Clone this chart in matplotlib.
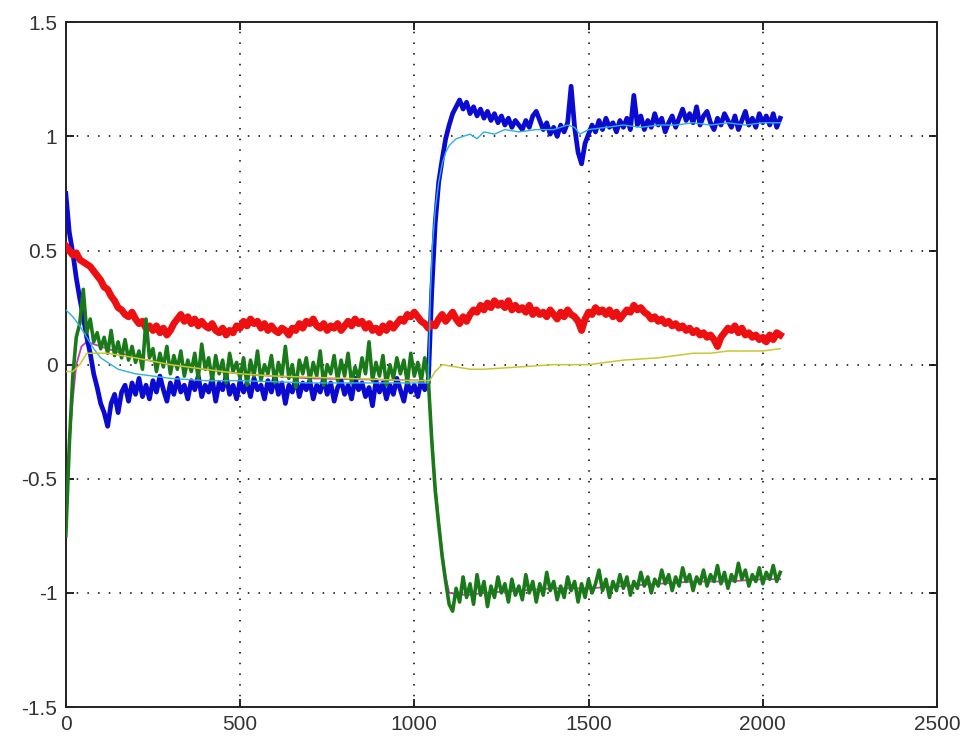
import matplotlib
matplotlib.use("Agg")
import matplotlib.pyplot as plt

# sample positions of the measured signals (one sample every 10 steps)
t = list(range(0, 2051, 10))

blue = [0.75, 0.58, 0.49, 0.38, 0.29, 0.21, 0.12, 0.05, -0.04, -0.10,
        -0.17, -0.21, -0.27, -0.17, -0.13, -0.21, -0.12, -0.09, -0.16, -0.08,
        -0.13, -0.06, -0.14, -0.09, -0.15, -0.07, -0.12, -0.05, -0.11, -0.16,
        -0.08, -0.13, -0.06, -0.12, -0.09, -0.15, -0.07, -0.11, -0.05, -0.14,
        -0.09, -0.12, -0.06, -0.16, -0.08, -0.11, -0.05, -0.13, -0.09, -0.15,
        -0.07, -0.12, -0.08, -0.14, -0.06, -0.11, -0.09, -0.15, -0.07, -0.12,
        -0.05, -0.13, -0.08, -0.17, -0.09, -0.12, -0.06, -0.14, -0.08, -0.11,
        -0.07, -0.15, -0.09, -0.12, -0.06, -0.13, -0.08, -0.16, -0.10, -0.07,
        -0.13, -0.09, -0.15, -0.06, -0.11, -0.08, -0.14, -0.10, -0.18, -0.07,
        -0.12, -0.08, -0.15, -0.09, -0.13, -0.06, -0.11, -0.16, -0.08, -0.12,
        -0.09, -0.14, -0.07, -0.11, -0.08, 0.32, 0.62, 0.80, 0.90, 0.99,
        1.05, 1.10, 1.13, 1.16, 1.12, 1.15, 1.10, 1.13, 1.09, 1.12,
        1.08, 1.11, 1.07, 1.10, 1.06, 1.09, 1.05, 1.08, 1.04, 1.07,
        1.05, 1.03, 1.07, 1.04, 1.09, 1.11, 1.07, 1.03, 1.06, 1.01,
        1.04, 1.00, 1.05, 1.02, 1.06, 1.22, 1.04, 0.93, 0.88, 0.97,
        1.01, 1.05, 1.02, 1.07, 1.03, 1.08, 1.04, 1.06, 1.02, 1.07,
        1.04, 1.08, 1.03, 1.18, 1.05, 1.09, 1.03, 1.07, 1.04, 1.10,
        1.05, 1.08, 1.02, 1.06, 1.09, 1.04, 1.08, 1.12, 1.07, 1.10,
        1.06, 1.13, 1.05, 1.09, 1.11, 1.06, 1.03, 1.08, 1.05, 1.10,
        1.07, 1.04, 1.09, 1.03, 1.07, 1.11, 1.05, 1.08, 1.04, 1.10,
        1.06, 1.09, 1.05, 1.10, 1.04, 1.08]

red = [0.52, 0.50, 0.48, 0.49, 0.46, 0.45, 0.44, 0.43, 0.41, 0.39,
       0.37, 0.34, 0.33, 0.30, 0.28, 0.25, 0.24, 0.22, 0.21, 0.23,
       0.20, 0.18, 0.19, 0.16, 0.17, 0.15, 0.17, 0.14, 0.16, 0.13,
       0.15, 0.18, 0.20, 0.22, 0.19, 0.21, 0.18, 0.20, 0.17, 0.19,
       0.17, 0.16, 0.18, 0.15, 0.14, 0.16, 0.13, 0.15, 0.14, 0.17,
       0.16, 0.19, 0.17, 0.20, 0.18, 0.19, 0.16, 0.18, 0.15, 0.17,
       0.15, 0.14, 0.16, 0.15, 0.13, 0.16, 0.15, 0.18, 0.16, 0.19,
       0.18, 0.20, 0.17, 0.16, 0.18, 0.15, 0.17, 0.16, 0.18, 0.15,
       0.17, 0.19, 0.17, 0.20, 0.18, 0.19, 0.16, 0.18, 0.15, 0.16,
       0.14, 0.17, 0.15, 0.18, 0.16, 0.18, 0.20, 0.19, 0.22, 0.21,
       0.23, 0.21, 0.19, 0.18, 0.16, 0.18, 0.17, 0.20, 0.22, 0.19,
       0.21, 0.23, 0.20, 0.18, 0.21, 0.19, 0.22, 0.24, 0.23, 0.26,
       0.24, 0.27, 0.25, 0.28, 0.26, 0.27, 0.25, 0.28, 0.24, 0.26,
       0.24, 0.25, 0.23, 0.26, 0.22, 0.24, 0.22, 0.23, 0.21, 0.24,
       0.22, 0.20, 0.23, 0.21, 0.24, 0.22, 0.21, 0.19, 0.15, 0.20,
       0.23, 0.22, 0.25, 0.23, 0.24, 0.22, 0.24, 0.21, 0.23, 0.20,
       0.22, 0.24, 0.23, 0.26, 0.24, 0.25, 0.23, 0.22, 0.20, 0.21,
       0.19, 0.20, 0.18, 0.19, 0.17, 0.18, 0.16, 0.17, 0.15, 0.16,
       0.14, 0.15, 0.13, 0.14, 0.12, 0.13, 0.11, 0.08, 0.12, 0.14,
       0.16, 0.15, 0.17, 0.14, 0.16, 0.13, 0.14, 0.12, 0.13, 0.11,
       0.12, 0.10, 0.13, 0.11, 0.14, 0.13]

green = [-0.75, -0.35, -0.05, 0.12, 0.18, 0.33, 0.14, 0.20, 0.10, 0.14,
         0.07, 0.12, 0.05, 0.15, 0.04, 0.10, 0.03, 0.11, 0.02, 0.08,
         0.01, 0.06, -0.02, 0.20, 0.03, 0.07, -0.03, 0.05, -0.01, 0.08,
         -0.04, 0.04, -0.02, 0.06, -0.05, 0.02, -0.03, 0.05, -0.06, 0.09,
         -0.02, 0.03, -0.07, 0.04, -0.04, 0.02, -0.08, 0.05, -0.03, 0.01,
         -0.06, 0.03, -0.09, 0.02, -0.05, 0.06, -0.07, 0.00, -0.04, 0.04,
         -0.08, 0.01, -0.05, 0.08, -0.06, 0.00, -0.10, 0.02, -0.04, 0.03,
         -0.07, 0.01, -0.05, 0.06, -0.09, 0.00, -0.04, 0.04, -0.07, 0.02,
         -0.05, 0.05, -0.08, -0.01, -0.06, 0.03, -0.04, 0.10, -0.07, 0.01,
         -0.05, 0.04, -0.09, 0.00, -0.06, 0.03, -0.04, 0.02, -0.08, 0.05,
         -0.05, 0.01, -0.07, 0.03, -0.06, -0.33, -0.55, -0.70, -0.84, -0.95,
         -1.05, -1.08, -0.98, -1.04, -0.93, -1.02, -0.96, -1.05, -0.92, -1.01,
         -0.95, -1.06, -0.97, -1.02, -0.93, -1.00, -0.96, -1.04, -0.94, -1.01,
         -0.97, -1.03, -0.92, -1.00, -0.95, -1.04, -0.96, -1.01, -0.91, -0.99,
         -0.95, -1.03, -0.97, -1.02, -0.93, -0.99, -0.95, -1.04, -0.96, -1.02,
         -0.94, -1.00, -0.96, -0.90, -0.99, -0.94, -1.02, -0.95, -0.99, -0.92,
         -0.98, -0.93, -1.01, -0.95, -0.98, -0.91, -0.97, -0.93, -1.00, -0.94,
         -0.97, -0.90, -0.96, -0.92, -0.99, -0.93, -0.97, -0.89, -0.95, -0.92,
         -0.99, -0.93, -0.96, -0.90, -0.97, -0.92, -0.95, -0.88, -0.96, -0.91,
         -0.98, -0.92, -0.95, -0.87, -0.94, -0.90, -0.97, -0.92, -0.95, -0.89,
         -0.96, -0.91, -0.94, -0.88, -0.95, -0.91]

# smoother estimates, given at their own sample positions
cyan_t = [0, 20, 40, 60, 80, 100, 150, 200, 300, 400, 500, 700, 900, 1040,
          1046, 1052, 1060, 1070, 1080, 1090, 1100, 1120, 1140, 1160, 1180,
          1200, 1230, 1260, 1300, 1350, 1400, 1440, 1460, 1475, 1500, 1550,
          1600, 1650, 1700, 1750, 1800, 1850, 1900, 1950, 2000, 2050]
cyan = [0.24, 0.21, 0.17, 0.12, 0.07, 0.03, -0.02, -0.04, -0.06, -0.07,
        -0.07, -0.08, -0.08, -0.08, 0.30, 0.52, 0.68, 0.80, 0.88, 0.93,
        0.96, 0.99, 1.00, 1.01, 0.99, 1.02, 1.01, 1.03, 1.02, 1.03,
        1.03, 1.05, 1.04, 1.01, 1.03, 1.04, 1.05, 1.04, 1.05, 1.05,
        1.06, 1.05, 1.06, 1.05, 1.06, 1.06]

magenta_t = [0, 10, 20, 30, 45, 60, 80, 120, 200, 300, 500, 700, 1040, 1050,
             1060, 1070, 1080, 1090, 1100, 1150, 1200, 1300, 1400, 1500,
             1600, 1700, 1800, 1900, 2000, 2050]
magenta = [-0.55, -0.35, -0.15, 0.00, 0.08, 0.10, 0.09, 0.07, 0.03, 0.00,
           -0.04, -0.06, -0.07, -0.30, -0.52, -0.68, -0.82, -0.93, -1.00,
           -1.01, -1.00, -0.99, -0.98, -0.98, -0.97, -0.96, -0.95, -0.95,
           -0.94, -0.94]

yellow_t = [0, 20, 40, 60, 120, 200, 300, 400, 500, 600, 800, 1000, 1044,
            1060, 1080, 1120, 1160, 1200, 1300, 1400, 1500, 1600, 1700,
            1750, 1800, 1850, 1900, 1950, 2000, 2050]
yellow = [-0.03, -0.03, 0.00, 0.05, 0.05, 0.03, 0.00, -0.02, -0.04, -0.05,
          -0.06, -0.07, -0.07, -0.03, 0.00, -0.01, -0.02, -0.02, -0.01, 0.00,
          0.00, 0.02, 0.03, 0.04, 0.05, 0.05, 0.06, 0.06, 0.06, 0.07]

xticks = [0, 500, 1000, 1500, 2000, 2500]
yticks = [-1.5, -1, -0.5, 0, 0.5, 1, 1.5]

plt.rcParams['font.family'] = ['Liberation Sans', 'DejaVu Sans']

fig = plt.figure(figsize=(9.68, 7.45), dpi=100)
ax = fig.add_axes([0.068, 0.051, 0.9, 0.919])

ax.plot(magenta_t, magenta, color='#c040b0', lw=1.3, zorder=2)
ax.plot(t, blue, color='#0a0ad0', lw=3.4, zorder=3)
ax.plot(t, red, color='#ee1010', lw=5.0, zorder=3)
ax.plot(t, green, color='#1a7a1a', lw=2.6, zorder=4)
ax.plot(cyan_t, cyan, color='#30b0e0', lw=1.0, zorder=5)
ax.plot(yellow_t, yellow, color='#c8c830', lw=1.1, zorder=5)

ax.set_xlim(0, 2500)
ax.set_ylim(-1.5, 1.5)
ax.set_xticks(xticks)
ax.set_yticks(yticks)
ax.set_xticklabels([str(v) for v in xticks])
ax.set_yticklabels(['-1.5', '-1', '-0.5', '0', '0.5', '1', '1.5'])

ax.grid(True, color='black', linestyle=(0, (1, 6)), linewidth=1.1)
ax.tick_params(direction='in', length=6, width=1.2, top=True, right=True,
               labelsize=15, labelcolor='#333333', pad=6)
for s in ax.spines.values():
    s.set_linewidth(1.4)
    s.set_color('#222222')

fig.savefig('out.png', dpi=100)
